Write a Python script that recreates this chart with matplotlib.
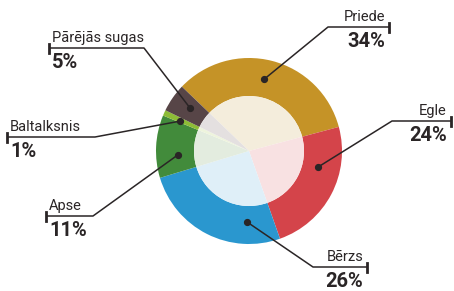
import numpy as np
import matplotlib
matplotlib.use("Agg")
import matplotlib.pyplot as plt
from matplotlib import font_manager

# ---- data ----
species = ["Priede", "Egle", "Bērzs", "Apse", "Baltalksnis", "Pārējās sugas"]
shares = [34, 24, 26, 11, 1, 5]
pct_labels = ["34%", "24%", "26%", "11%", "1%", "5%"]

# ---- styles ----
outer_colors = ["#C59327", "#D4444A", "#2A97CF", "#428B3B", "#8DBC36", "#574547"]
inner_colors = ["#F4EDDC", "#F8E1E2", "#DFEFF8", "#E3ECDF", "#EEF4DD", "#E4E0E0"]
text_color = "#2A2526"

avail = {f.name for f in font_manager.fontManager.ttflist}
fam = [f for f in ["Liberation Sans Narrow", "DejaVu Sans Condensed", "Roboto", "DejaVu Sans"] if f in avail]

W, H = 454, 291
fig = plt.figure(figsize=(W / 100, H / 100), dpi=100)
ax = fig.add_axes([0, 0, 1, 1])

cx, cy = 249, H - 151
R_out, R_in = 93, 55
start = 136.2

ax.pie(shares, colors=outer_colors, radius=R_out, center=(cx, cy),
       startangle=start, counterclock=False,
       wedgeprops=dict(width=R_out - R_in, linewidth=0))
ax.pie(shares, colors=inner_colors, radius=R_in, center=(cx, cy),
       startangle=start, counterclock=False,
       wedgeprops=dict(linewidth=0))

ax.set_xlim(0, W)
ax.set_ylim(0, H)
ax.set_aspect("auto")
ax.axis("off")

# leader layout: dot angle (deg), dot radius, elbow (px), end (px), side
layout = {
    "Priede":        (78.0, 73.5, (328, 27), (389, 27), "right"),
    "Egle":          (-13.0, 71, (392, 121), (451, 121), "right"),
    "Bērzs":         (-91.6, 71, (313, 267), (367, 267), "right"),
    "Apse":          (183.0, 71, (93, 216), (46, 216), "left"),
    "Baltalksnis":   (156.5, 75, (95, 137), (7, 137), "left"),
    "Pārējās sugas": (143.9, 73, (144, 48), (49, 48), "left"),
}

for name, pct in zip(species, pct_labels):
    ang, r, (ex, ey), (tx, ty), side = layout[name]
    a = np.deg2rad(ang)
    dx, dy = cx + r * np.cos(a), cy + r * np.sin(a)
    ey, ty = H - ey, H - ty
    ax.plot([dx, ex, tx], [dy, ey, ty], color=text_color, lw=1.1,
            solid_capstyle="butt", zorder=5)
    ax.plot([dx], [dy], "o", color=text_color, ms=4.2, zorder=6)
    ax.plot([tx, tx], [ty - 4.5, ty + 4.5], color=text_color, lw=2, zorder=5)
    if side == "right":
        x_txt, ha = tx - 4, "right"
    else:
        x_txt, ha = tx + 3, "left"
    ax.text(x_txt, ty + 3, name, ha=ha, va="bottom", fontsize=10.5,
            family=fam, color=text_color)
    ax.text(x_txt, ty - 5, pct, ha=ha, va="top", fontsize=14.5,
            family=fam, fontweight="bold", color=text_color)

fig.savefig("out.png", dpi=100)
